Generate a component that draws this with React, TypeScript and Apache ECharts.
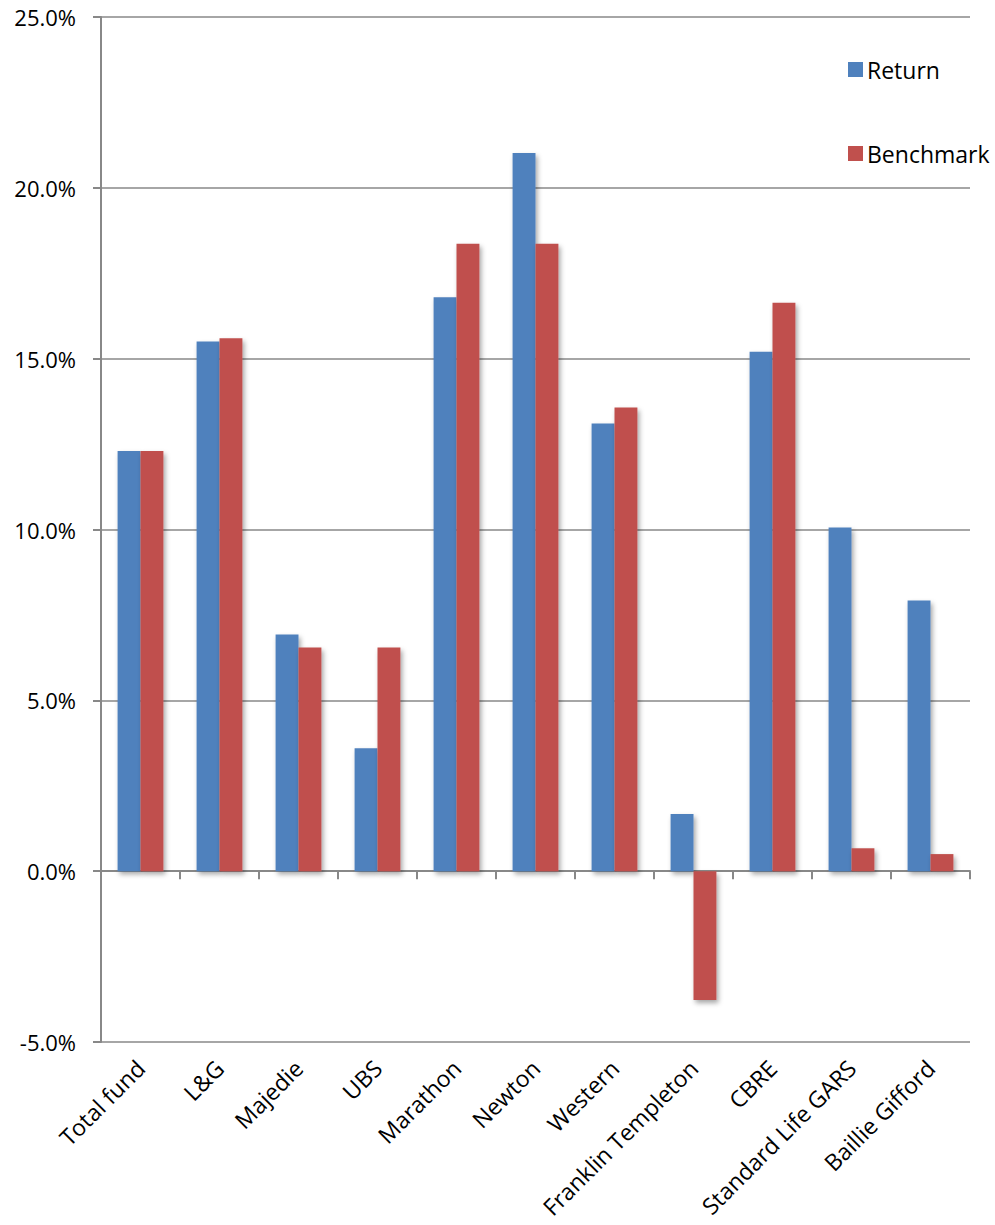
import React, { useEffect, useRef } from "react";
import * as echarts from "echarts";

const categories = [
  "Total fund",
  "L&G",
  "Majedie",
  "UBS",
  "Marathon",
  "Newton",
  "Western",
  "Franklin Templeton",
  "CBRE",
  "Standard Life GARS",
  "Baillie Gifford",
];
const returnValues = [12.3, 15.5, 6.93, 3.6, 16.8, 21.02, 13.1, 1.67, 15.2, 10.06, 7.92];
const benchmarkValues = [12.3, 15.6, 6.55, 6.55, 18.36, 18.36, 13.57, -3.77, 16.64, 0.67, 0.5];
const yTicks = { min: -5, max: 25, interval: 5 };

const FONT = "'Open Sans', 'Noto Sans', sans-serif";

export default function App() {
  const ref = useRef<HTMLDivElement>(null);
  useEffect(() => {
    if (!ref.current) return;
    const chart = echarts.init(ref.current, null, { renderer: "svg" });
    const shadow = {
      shadowBlur: 5,
      shadowOffsetX: 2,
      shadowOffsetY: 3,
      shadowColor: "rgba(0,0,0,0.35)",
    };
    chart.setOption({
      animation: false,
      backgroundColor: "#ffffff",
      textStyle: { fontFamily: FONT },
      legend: {
        orient: "vertical",
        left: 843,
        top: 53,
        itemGap: 61,
        itemWidth: 15,
        itemHeight: 15,
        icon: "rect",
        textStyle: { fontSize: 23, color: "#000", fontFamily: FONT, padding: [0, 0, 0, -1] },
        data: ["Return", "Benchmark"],
      },
      grid: { left: 101, right: 25, top: 17, bottom: 183, containLabel: false },
      xAxis: [
        {
          type: "category",
          data: categories,
          position: "bottom",
          axisLine: { onZero: true, lineStyle: { color: "#888", width: 2 } },
          axisTick: { show: true, interval: 0, length: 8, lineStyle: { color: "#888", width: 2 } },
          axisLabel: { show: false },
          splitLine: { show: false },
        },
        {
          type: "category",
          data: categories,
          position: "bottom",
          axisLine: { show: false, onZero: false },
          axisTick: { show: false },
          axisLabel: {
            show: true,
            rotate: 45,
            interval: 0,
            fontSize: 23,
            color: "#000",
            fontFamily: FONT,
            margin: 22,
          },
        },
      ],
      yAxis: {
        type: "value",
        min: yTicks.min,
        max: yTicks.max,
        interval: yTicks.interval,
        axisLine: { show: true, lineStyle: { color: "#888", width: 2 } },
        axisTick: { show: true, length: 8, lineStyle: { color: "#888", width: 2 } },
        splitLine: { show: true, lineStyle: { color: "#888", width: 1.5 } },
        axisLabel: {
          fontSize: 22,
          color: "#000",
          fontFamily: FONT,
          margin: 25,
          formatter: (v: number) => v.toFixed(1) + "%",
        },
      },
      series: [
        {
          name: "Return",
          type: "bar",
          xAxisIndex: 0,
          data: returnValues,
          barGap: "0%",
          barCategoryGap: "42%",
          itemStyle: { color: "#4F81BD", ...shadow },
        },
        {
          name: "Benchmark",
          type: "bar",
          xAxisIndex: 0,
          data: benchmarkValues,
          barGap: "0%",
          barCategoryGap: "42%",
          itemStyle: { color: "#C0504D", ...shadow },
        },
      ],
    });
    return () => chart.dispose();
  }, []);
  return <div ref={ref} style={{ width: 995, height: 1225, position: "absolute", left: 0, top: 0 }} />;
}
